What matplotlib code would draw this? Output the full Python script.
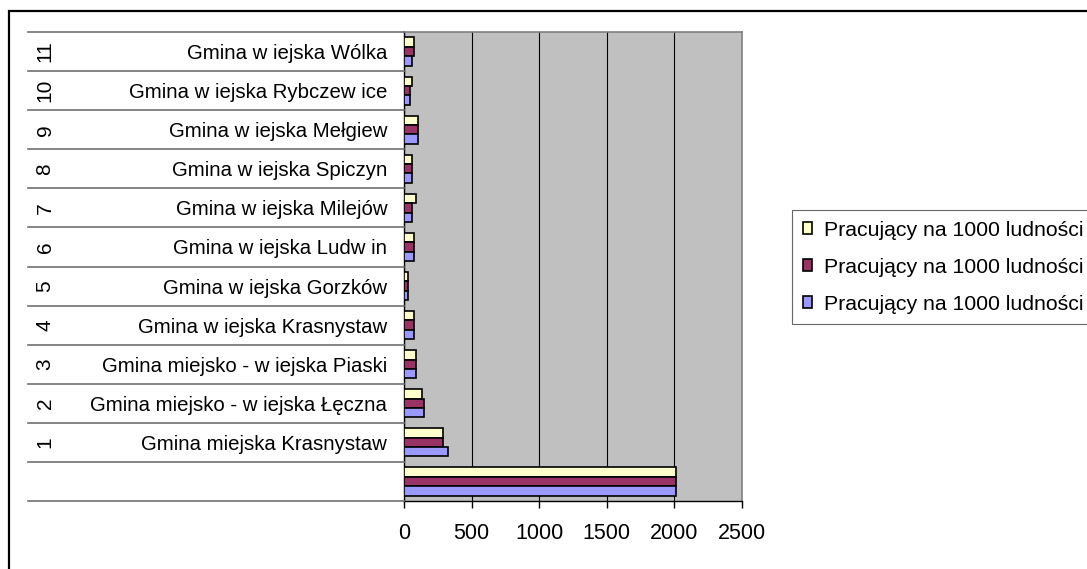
import matplotlib
matplotlib.use("Agg")
import matplotlib.pyplot as plt
from matplotlib import transforms
from matplotlib.patches import Patch, Rectangle

plt.rcParams['font.family'] = ['Liberation Sans', 'DejaVu Sans']

# ---- data ----
numbers = ["", "1", "2", "3", "4", "5", "6", "7", "8", "9", "10", "11"]
names = ["",
         "Gmina miejska Krasnystaw",
         "Gmina miejsko - w iejska Łęczna",
         "Gmina miejsko - w iejska Piaski",
         "Gmina w iejska Krasnystaw",
         "Gmina w iejska Gorzków",
         "Gmina w iejska Ludw in",
         "Gmina w iejska Milejów",
         "Gmina w iejska Spiczyn",
         "Gmina w iejska Mełgiew",
         "Gmina w iejska Rybczew ice",
         "Gmina w iejska Wólka"]
series_yellow = [2010, 292, 130, 86, 72, 28, 72, 86, 57, 101, 57, 72]
series_maroon = [2010, 292, 145, 86, 72, 28, 72, 57, 57, 101, 42, 72]
series_blue = [2010, 322, 145, 86, 72, 26, 72, 57, 57, 101, 42, 57]
legend_labels = ["Pracujący na 1000 ludności",
                 "Pracujący na 1000 ludności",
                 "Pracujący na 1000 ludności"]
x_ticks = [0, 500, 1000, 1500, 2000, 2500]

colors = ["#FFFFCC", "#993366", "#9999FF"]

W, H = 1087, 569
fig = plt.figure(figsize=(W / 100, H / 100), dpi=100)
fig.patch.set_facecolor("white")

ax = fig.add_axes([404 / W, 1 - 501 / H, (742 - 404) / W, (501 - 32) / H])
ax.set_facecolor("#C0C0C0")

y = list(range(len(names)))
h = 0.24
for vals, off, c in zip([series_yellow, series_maroon, series_blue], [h, 0, -h], colors):
    ax.barh([v + off for v in y], vals, height=h, color=c, edgecolor="black",
            linewidth=1.2, zorder=3)

ax.set_xlim(0, 2500)
ax.set_ylim(-0.5, len(names) - 0.5)
ax.set_xticks(x_ticks)
ax.set_xticklabels([str(t) for t in x_ticks], fontsize=15.5)
ax.tick_params(axis="x", length=5, width=1, pad=11, color="black")
ax.xaxis.grid(True, color="black", linewidth=0.8, zorder=1)
ax.set_axisbelow(True)

ax.set_yticks(y)
ax.set_yticklabels(names, fontsize=14.7)
ax.tick_params(axis="y", length=0, pad=12)

for side in ["top", "right"]:
    ax.spines[side].set_color("#808080")
    ax.spines[side].set_linewidth(1.2)
for side in ["left", "bottom"]:
    ax.spines[side].set_color("black")
    ax.spines[side].set_linewidth(1.0)

# category separators and number labels
blend = transforms.blended_transform_factory(fig.transFigure, ax.transData)
for k in range(len(names) + 1):
    ax.plot([28 / W, 404 / W], [k - 0.5, k - 0.5], transform=blend, color="#707070",
            linewidth=1.2, clip_on=False, zorder=4)
for k, n in enumerate(numbers):
    if n:
        ax.text(45 / W, k, n, transform=blend, rotation=90, ha="center", va="center",
                fontsize=15)

# outer frame
fig.patches.append(Rectangle((9 / W, -0.2), 2.0, 1.2 - 11 / H, transform=fig.transFigure,
                             fill=False, edgecolor="black", linewidth=1.6))

handles = [Patch(facecolor=c, edgecolor="black", linewidth=1.2) for c in colors]
leg = fig.legend(handles, legend_labels, loc="upper left",
                 bbox_to_anchor=(792 / W, 1 - 210 / H), fontsize=15.3, frameon=True,
                 fancybox=False, handlelength=0.45, handleheight=0.45, handletextpad=0.55,
                 labelspacing=0.85, borderpad=0.5, borderaxespad=0)
leg.get_frame().set_edgecolor("#404040")
leg.get_frame().set_linewidth(0.8)

fig.savefig("out.png", dpi=100)
